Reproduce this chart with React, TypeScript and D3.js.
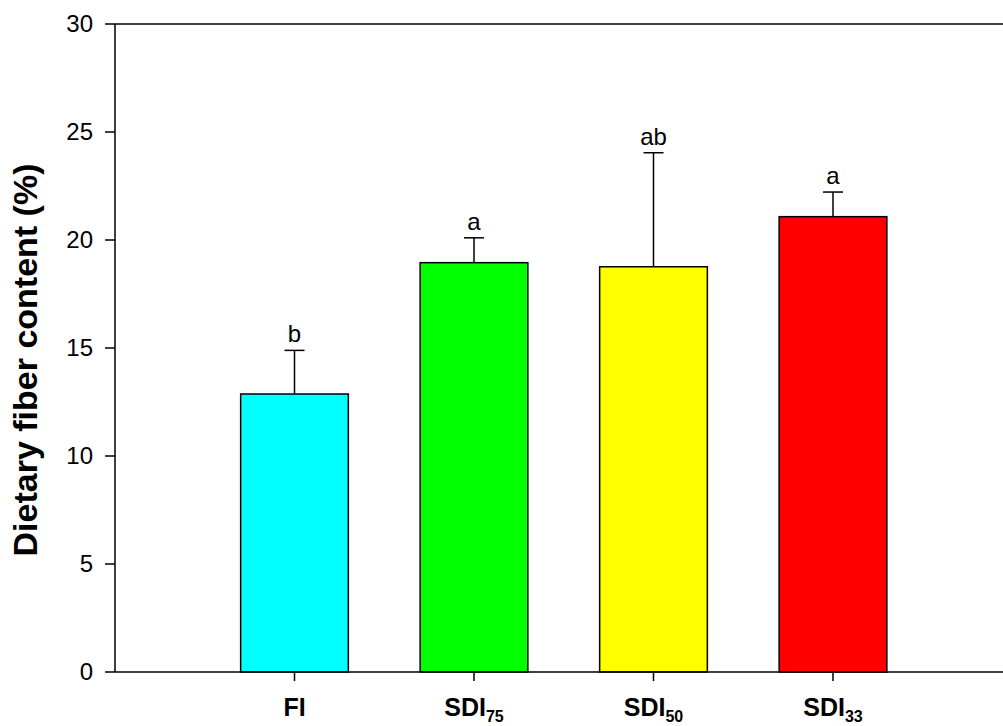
import React from 'react';
import * as d3 from 'd3';

const categories = ['FI', 'SDI75', 'SDI50', 'SDI33'];
const subscripts = ['', '75', '50', '33'];
const means = [12.87, 18.95, 18.76, 21.08];
const errors = [2.02, 1.15, 5.28, 1.14];
const letters = ['b', 'a', 'ab', 'a'];
const colors = ['#00ffff', '#00ff00', '#ffff00', '#ff0000'];
const yTicks = [0, 5, 10, 15, 20, 25, 30];

export default function App() {
  const width = 1003;
  const height = 726;
  const left = 115;
  const top = 24;
  const bottom = 672;
  const step = 179.5;

  // categories sit at 1..4, axis runs 0..5 (cut off at the right edge)
  const x = d3.scaleLinear().domain([0, 5]).range([left, left + 5 * step]);
  const y = d3.scaleLinear().domain([0, 30]).range([bottom, top]);
  const barW = step * 0.6;
  const font = 'Arial, "Liberation Sans", sans-serif';

  return (
    <svg width={width} height={height} style={{ position: 'absolute', left: 0, top: 0 }}>
      <rect width={width} height={height} fill="#fff" />
      {categories.map((c, i) => {
        const cx = x(i + 1);
        return (
          <g key={c}>
            <rect x={cx - barW / 2} y={y(means[i])} width={barW} height={bottom - y(means[i])}
              fill={colors[i]} stroke="#000" strokeWidth={1.5} />
            <line x1={cx} x2={cx} y1={y(means[i])} y2={y(means[i] + errors[i])} stroke="#000" strokeWidth={1.5} />
            <line x1={cx - 10} x2={cx + 10} y1={y(means[i] + errors[i])} y2={y(means[i] + errors[i])} stroke="#000" strokeWidth={1.5} />
            <text x={cx} y={y(means[i] + errors[i]) - 8} textAnchor="middle" fontFamily={font} fontSize={24}>{letters[i]}</text>
            <line x1={cx} x2={cx} y1={bottom} y2={bottom + 9} stroke="#000" strokeWidth={1.5} />
            <text x={cx} y={716} textAnchor="middle" fontFamily={font} fontSize={25} fontWeight="bold">
              {subscripts[i] ? 'SDI' : c}
              {subscripts[i] && <tspan fontSize={16} dy={6}>{subscripts[i]}</tspan>}
            </text>
          </g>
        );
      })}
      <line x1={left} x2={width} y1={top} y2={top} stroke="#000" strokeWidth={1.5} />
      <line x1={left} x2={width} y1={bottom} y2={bottom} stroke="#000" strokeWidth={1.5} />
      <line x1={left} x2={left} y1={top} y2={bottom} stroke="#000" strokeWidth={1.5} />
      {yTicks.map((t) => (
        <g key={t}>
          <line x1={left - 10} x2={left} y1={y(t)} y2={y(t)} stroke="#000" strokeWidth={1.5} />
          <text x={93} y={y(t)} dy="0.35em" textAnchor="end" fontFamily={font} fontSize={24}>{t}</text>
        </g>
      ))}
      <text transform={`translate(37,360) rotate(-90)`} textAnchor="middle"
        fontFamily={font} fontSize={34} fontWeight="bold">Dietary fiber content (%)</text>
    </svg>
  );
}
